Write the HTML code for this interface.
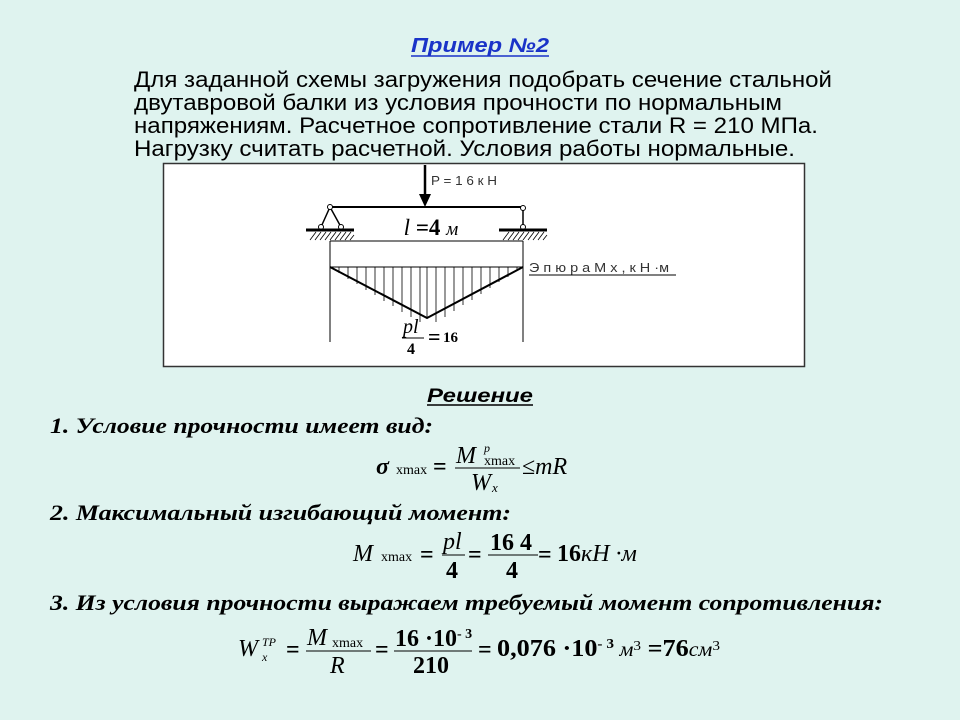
<!DOCTYPE html>
<html><head><meta charset="utf-8"><style>
html,body{margin:0;padding:0;background:#dff3ef;}
svg{display:block}
.s{font-family:"Liberation Sans",sans-serif}
.t{font-family:"Liberation Serif",serif}
</style></head><body>
<svg width="960" height="720" viewBox="0 0 960 720" xmlns="http://www.w3.org/2000/svg">
<rect width="960" height="720" fill="#dff3ef"/>
<text x="411" y="52" textLength="138" lengthAdjust="spacingAndGlyphs" class="s" font-size="20" font-weight="bold" font-style="italic" fill="#1a33c8">Пример №2</text>
<line x1="411" y1="56" x2="549" y2="56" stroke="#1a33c8" stroke-width="1.5"/>
<g class="s" font-size="22" fill="#000">
<text x="134" y="87" textLength="698" lengthAdjust="spacingAndGlyphs">Для заданной схемы загружения подобрать сечение стальной</text>
<text x="134" y="110" textLength="648" lengthAdjust="spacingAndGlyphs">двутавровой балки из условия прочности по нормальным</text>
<text x="134" y="133" textLength="684" lengthAdjust="spacingAndGlyphs">напряжениям. Расчетное сопротивление стали R = 210 МПа.</text>
<text x="134" y="156" textLength="661" lengthAdjust="spacingAndGlyphs">Нагрузку считать расчетной. Условия работы нормальные.</text>
</g>
<rect x="163.5" y="163.5" width="641" height="203" fill="#fff" stroke="#333" stroke-width="1.5"/>
<line x1="425" y1="165" x2="425" y2="196" stroke="#000" stroke-width="2.5"/>
<polygon points="419,194 431,194 425,207" fill="#000"/>
<text x="431" y="185" textLength="66" lengthAdjust="spacingAndGlyphs" class="s" font-size="13" fill="#333">P = 1 6  к Н</text>
<line x1="330" y1="207" x2="523" y2="207" stroke="#000" stroke-width="2"/>
<polyline points="321,227 330,207 341,227" fill="none" stroke="#000" stroke-width="1.5"/>
<circle cx="330" cy="207" r="2.5" fill="#fff" stroke="#000"/>
<circle cx="321" cy="227" r="2.5" fill="#fff" stroke="#000"/>
<circle cx="341" cy="227" r="2.5" fill="#fff" stroke="#000"/>
<line x1="306" y1="230" x2="354" y2="230" stroke="#000" stroke-width="3"/>
<line x1="523" y1="209" x2="523" y2="227" stroke="#000" stroke-width="1.5"/>
<circle cx="523" cy="208" r="2.5" fill="#fff" stroke="#000"/>
<circle cx="523" cy="227" r="2.5" fill="#fff" stroke="#000"/>
<line x1="499" y1="230" x2="547" y2="230" stroke="#000" stroke-width="3"/>
<g stroke="#000" stroke-width="0.8">
<path d="M310 240l6-8M315 240l6-8M320 240l6-8M325 240l6-8M330 240l6-8M335 240l6-8M340 240l6-8M345 240l6-8M350 240l4-5"/>
<path d="M503 240l6-8M508 240l6-8M513 240l6-8M518 240l6-8M523 240l6-8M528 240l6-8M533 240l6-8M538 240l6-8M543 240l4-5"/>
</g>
<text x="431" y="235" text-anchor="middle" class="t" font-size="23" font-style="italic"><tspan>l</tspan> <tspan font-weight="bold" font-style="normal">=4</tspan> <tspan font-size="19">м</tspan></text>
<line x1="330" y1="241" x2="523" y2="241" stroke="#000"/>
<line x1="330" y1="241" x2="330" y2="342" stroke="#000"/>
<line x1="523" y1="241" x2="523" y2="342" stroke="#000"/>
<line x1="330" y1="267" x2="523" y2="267" stroke="#000"/>
<g stroke="#000" stroke-width="0.8">
<line x1="339" y1="267" x2="339" y2="273"/><line x1="348" y1="267" x2="348" y2="279"/><line x1="357" y1="267" x2="357" y2="284"/><line x1="366" y1="267" x2="366" y2="290"/><line x1="375" y1="267" x2="375" y2="295"/><line x1="384" y1="267" x2="384" y2="301"/><line x1="393" y1="267" x2="393" y2="306"/><line x1="402" y1="267" x2="402" y2="312"/><line x1="411" y1="267" x2="411" y2="317"/><line x1="420" y1="267" x2="420" y2="322"/>
<line x1="427" y1="267" x2="427" y2="317"/><line x1="436" y1="267" x2="436" y2="322"/><line x1="445" y1="267" x2="445" y2="317"/><line x1="454" y1="267" x2="454" y2="311"/><line x1="463" y1="267" x2="463" y2="305"/><line x1="472" y1="267" x2="472" y2="300"/><line x1="481" y1="267" x2="481" y2="294"/><line x1="490" y1="267" x2="490" y2="288"/><line x1="499" y1="267" x2="499" y2="282"/><line x1="508" y1="267" x2="508" y2="277"/><line x1="517" y1="267" x2="517" y2="271"/>
</g>
<polyline points="330,267 427,318 523,267" fill="none" stroke="#000" stroke-width="2"/>
<text x="529" y="272" textLength="140" lengthAdjust="spacingAndGlyphs" class="s" font-size="13" fill="#333">Э п ю р а  М х , к Н ·м</text>
<line x1="529" y1="275" x2="676" y2="275" stroke="#000"/>
<text x="403" y="333" class="t" font-size="20" font-style="italic">pl</text>
<line x1="402" y1="338" x2="424" y2="338" stroke="#000"/>
<text x="407" y="354" class="t" font-size="16" font-weight="bold">4</text>
<text x="428" y="344" class="t" font-size="22" font-weight="bold">=</text><text x="443" y="342" class="t" font-size="15" font-weight="bold">16</text>
<text x="427" y="402" textLength="106" lengthAdjust="spacingAndGlyphs" class="s" font-size="19" font-weight="bold" font-style="italic">Решение</text>
<line x1="427" y1="405" x2="533" y2="405" stroke="#000" stroke-width="1.5"/>
<g class="t" font-size="22" font-weight="bold" font-style="italic">
<text x="50" y="433" textLength="383" lengthAdjust="spacingAndGlyphs">1.   Условие прочности имеет вид:</text>
<text x="50" y="520" textLength="461" lengthAdjust="spacingAndGlyphs">2.   Максимальный изгибающий момент:</text>
<text x="50" y="610" textLength="833" lengthAdjust="spacingAndGlyphs">3.   Из условия прочности выражаем требуемый момент сопротивления:</text>
</g>
<g class="t" font-size="24">
<text x="376" y="474" font-weight="bold" font-style="italic">σ</text>
<text x="396" y="474" font-size="14">xmax</text>
<text x="433" y="474" font-weight="bold">=</text>
<text x="456" y="463" font-style="italic">M</text>
<text x="484" y="452" font-size="12" font-style="italic">p</text>
<text x="484" y="465" font-size="14">xmax</text>
<line x1="455" y1="468" x2="520" y2="468" stroke="#000"/>
<text x="471" y="490" font-style="italic">W</text><text x="492" y="492" font-size="13" font-style="italic">x</text>
<text x="522" y="474">≤<tspan font-style="italic">mR</tspan></text>
</g>
<g class="t" font-size="24">
<text x="353" y="561" font-style="italic">M</text>
<text x="381" y="561" font-size="14">xmax</text>
<text x="420" y="562" font-weight="bold">=</text>
<text x="443" y="549" font-style="italic">pl</text>
<line x1="442" y1="555" x2="465" y2="555" stroke="#000"/>
<text x="446" y="578" font-weight="bold">4</text>
<text x="468" y="562" font-weight="bold">=</text>
<text x="490" y="550" font-weight="bold">16 4</text>
<line x1="488" y1="555" x2="538" y2="555" stroke="#000"/>
<text x="506" y="578" font-weight="bold">4</text>
<text x="538" y="562" font-weight="bold">=</text>
<text x="557" y="561"><tspan font-weight="bold">16</tspan><tspan font-style="italic">кН ·м</tspan></text>
</g>
<g class="t" font-size="24">
<text x="238" y="656" font-style="italic">W</text>
<text x="262" y="646" font-size="12" font-style="italic">TP</text>
<text x="262" y="661" font-size="12" font-style="italic">x</text>
<text x="286" y="657" font-weight="bold">=</text>
<text x="307" y="645" font-style="italic">M</text>
<text x="332" y="647" font-size="14">xmax</text>
<line x1="306" y1="651" x2="371" y2="651" stroke="#000"/>
<text x="330" y="673" font-style="italic">R</text>
<text x="375" y="657" font-weight="bold">=</text>
<text x="395" y="646" font-weight="bold">16 ·10<tspan font-size="14" dy="-8">- 3</tspan></text>
<line x1="394" y1="651" x2="472" y2="651" stroke="#000"/>
<text x="413" y="673" font-weight="bold">210</text>
<text x="478" y="657" font-weight="bold">=</text>
<text x="497" y="656" textLength="223" lengthAdjust="spacingAndGlyphs"><tspan font-weight="bold">0,076 ·10</tspan><tspan font-size="14" dy="-8" font-weight="bold">- 3</tspan><tspan dy="8" font-style="italic" font-size="20"> м</tspan><tspan font-size="14" dy="-6">3</tspan><tspan dy="6" font-weight="bold"> =76</tspan><tspan font-style="italic" font-size="20">см</tspan><tspan font-size="14" dy="-6">3</tspan></text>
</g>
</svg>
</body></html>
